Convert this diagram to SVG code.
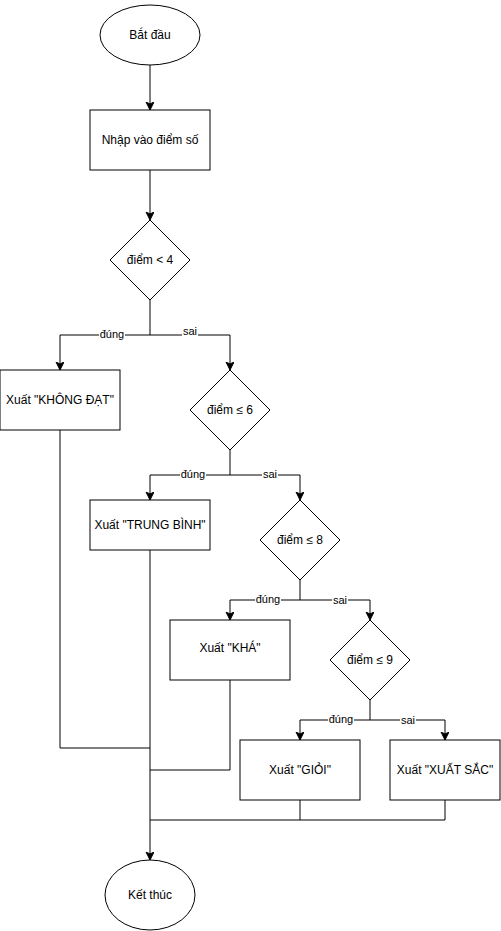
<svg xmlns="http://www.w3.org/2000/svg" width="501" height="931" viewBox="0 0 501 931">
<style>
.n{fill:#fff;stroke:#000;stroke-width:1}
.t{font-family:"Liberation Sans",Arial,sans-serif;font-size:12px;fill:#000;text-anchor:middle;dominant-baseline:central}
.c{fill:none;stroke:#000;stroke-width:1}
.lb{fill:#fff}
.l{font-family:"Liberation Sans",Arial,sans-serif;font-size:11px;fill:#000;text-anchor:middle;dominant-baseline:central}
</style>
<defs>
<marker id="a" markerWidth="10" markerHeight="10" refX="8" refY="4" orient="auto" markerUnits="userSpaceOnUse">
<path d="M0,0 L8,4 L0,8 L2,4 z" fill="#000" stroke="#000" stroke-width="1"/>
</marker>
</defs>
<rect width="501" height="931" fill="#fff"/>
<g id="connectors">
<path class="c" d="M150,65 V110" marker-end="url(#a)"/>
<path class="c" d="M150,170 V220" marker-end="url(#a)"/>
<path class="c" d="M150,300 V335 H60 V370" marker-end="url(#a)"/>
<path class="c" d="M150,335 H230 V370" marker-end="url(#a)"/>
<path class="c" d="M230,450 V475 H150 V500" marker-end="url(#a)"/>
<path class="c" d="M230,475 H300 V500" marker-end="url(#a)"/>
<path class="c" d="M300,580 V600 H230 V620" marker-end="url(#a)"/>
<path class="c" d="M300,600 H370 V620" marker-end="url(#a)"/>
<path class="c" d="M370,700 V720 H300 V740" marker-end="url(#a)"/>
<path class="c" d="M370,720 H445 V740" marker-end="url(#a)"/>
<path class="c" d="M60,430 V748 H150"/>
<path class="c" d="M230,680 V770 H150"/>
<path class="c" d="M300,800 V820 H150"/>
<path class="c" d="M445,800 V820 H300"/>
<path class="c" d="M150,550 V860" marker-end="url(#a)"/>
<rect class="lb" x="99" y="328" width="26" height="13"/>
<text class="l" x="112" y="334">đúng</text>
<rect class="lb" x="182" y="326" width="16" height="12"/>
<text class="l" x="190" y="331">sai</text>
<rect class="lb" x="180" y="468" width="26" height="13"/>
<text class="l" x="193" y="474">đúng</text>
<rect class="lb" x="262" y="468" width="16" height="13"/>
<text class="l" x="270" y="474">sai</text>
<rect class="lb" x="255" y="593" width="26" height="13"/>
<text class="l" x="268" y="599">đúng</text>
<rect class="lb" x="332" y="593" width="16" height="13"/>
<text class="l" x="340" y="600">sai</text>
<rect class="lb" x="328" y="713" width="26" height="13"/>
<text class="l" x="341" y="719">đúng</text>
<rect class="lb" x="400" y="713" width="16" height="13"/>
<text class="l" x="408" y="720">sai</text>
</g>
<g id="start"><ellipse class="n" cx="150" cy="35" rx="50" ry="30"/><text class="t" x="150" y="35">Bắt đầu</text></g>
<g id="input"><rect class="n" x="90" y="110" width="120" height="60"/><text class="t" x="150" y="140">Nhập vào điểm số</text></g>
<g id="d1"><path class="n" d="M150,220 L190,260 L150,300 L110,260 Z"/><text class="t" x="150" y="260">điểm &lt; 4</text></g>
<g id="o1"><rect class="n" x="0" y="370" width="120" height="60"/><text class="t" x="60" y="400">Xuất "KHÔNG ĐẠT"</text></g>
<g id="d2"><path class="n" d="M230,370 L270,410 L230,450 L190,410 Z"/><text class="t" x="230" y="410">điểm ≤ 6</text></g>
<g id="o2"><rect class="n" x="90" y="500" width="120" height="50"/><text class="t" x="150" y="525">Xuất "TRUNG BÌNH"</text></g>
<g id="d3"><path class="n" d="M300,500 L340,540 L300,580 L260,540 Z"/><text class="t" x="300" y="540">điểm ≤ 8</text></g>
<g id="o3"><rect class="n" x="170" y="620" width="120" height="60"/><text class="t" x="230" y="648">Xuất "KHÁ"</text></g>
<g id="d4"><path class="n" d="M370,620 L410,660 L370,700 L330,660 Z"/><text class="t" x="370" y="660">điểm ≤ 9</text></g>
<g id="o4"><rect class="n" x="240" y="740" width="120" height="60"/><text class="t" x="300" y="770">Xuất "GIỎI"</text></g>
<g id="o5"><rect class="n" x="390" y="740" width="110" height="60"/><text class="t" x="445" y="770">Xuất "XUẤT SẮC"</text></g>
<g id="end"><ellipse class="n" cx="150" cy="895" rx="45" ry="35"/><text class="t" x="150" y="895">Kết thúc</text></g>
</svg>
